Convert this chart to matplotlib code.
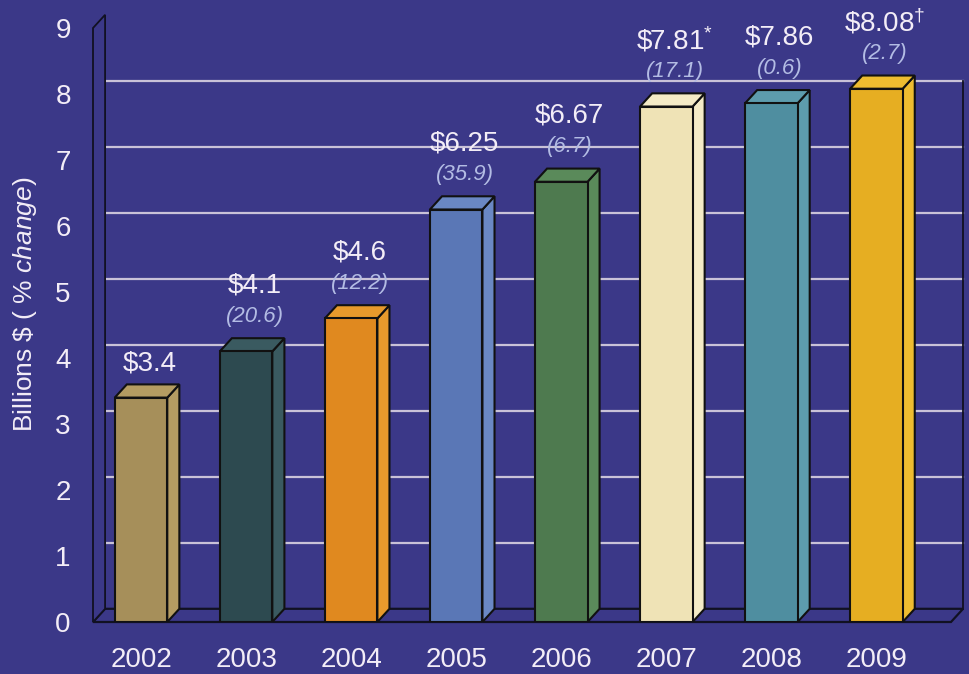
import matplotlib.pyplot as plt
from matplotlib.patches import Polygon

plt.rcParams['font.family'] = ['Liberation Sans', 'DejaVu Sans']
plt.rcParams['mathtext.fontset'] = 'custom'
plt.rcParams['mathtext.rm'] = 'Liberation Sans'
plt.rcParams['mathtext.it'] = 'Liberation Sans:italic'

# data
years = ['2002', '2003', '2004', '2005', '2006', '2007', '2008', '2009']
values = [3.4, 4.1, 4.6, 6.25, 6.67, 7.81, 7.86, 8.08]
changes = [None, 20.6, 12.2, 35.9, 6.7, 17.1, 0.6, 2.7]
notes = ['', '', '', '', '', '*', '', '\u2020']
bar_colors = ['#a68f5a', '#2d4a50', '#e0891f', '#5a77b6', '#4e7a4f',
              '#efe3b6', '#4f8ea0', '#e6ae22']
side_colors = ['#b49c62', '#3a5a60', '#e89a2c', '#6a88c4', '#5a8a5a',
               '#f4ebc6', '#5d9cad', '#eebc30']

BG = '#3b3888'
GRID = '#c9c2d8'
TXT = '#f3edf7'
PCT = '#b3bce4'

# 3d look
dx, dy = 0.115, 0.2
bw = 0.5
xl, xr = -0.457, 7.71

fig = plt.figure(figsize=(9.7, 6.74), dpi=100)
fig.patch.set_facecolor(BG)
ax = fig.add_axes([93 / 970, 52 / 674, (951 - 93) / 970, 594 / 674])
ax.set_facecolor(BG)
ax.set_xlim(xl, xr)
ax.set_ylim(0, 9)
for s in ax.spines.values():
    s.set_visible(False)

# floor and walls
ax.add_patch(Polygon([(xl, 0), (xr, 0), (xr + dx, dy), (xl + dx, dy)],
                     closed=True, facecolor=BG, edgecolor='#111122', lw=1.6,
                     zorder=1, clip_on=False))
ax.add_patch(Polygon([(xl, 0), (xl, 9), (xl + dx, 9 + dy), (xl + dx, dy)],
                     closed=True, facecolor=BG, edgecolor='#111122', lw=1.3,
                     zorder=1, clip_on=False))
for k in range(1, 9):
    ax.plot([xl + dx, xr + dx], [k + dy, k + dy], color=GRID, lw=1.6,
            zorder=0.5, clip_on=False)
ax.plot([xr + dx, xr + dx], [dy, 8 + dy], color='#111122', lw=1.3,
        zorder=1, clip_on=False)

# bars
for i, v in enumerate(values):
    x0, x1 = i - bw / 2, i + bw / 2
    ax.add_patch(Polygon([(x1, 0), (x1 + dx, dy), (x1 + dx, v + dy), (x1, v)],
                         closed=True, facecolor=side_colors[i],
                         edgecolor='#111111', lw=1.5, zorder=3))
    ax.add_patch(Polygon([(x0, v), (x0 + dx, v + dy), (x1 + dx, v + dy), (x1, v)],
                         closed=True, facecolor=side_colors[i],
                         edgecolor='#111111', lw=1.5, zorder=3))
    ax.bar(i, v, width=bw, color=bar_colors[i], edgecolor='#111111',
           lw=1.5, zorder=4)

    cx = i + dx * 0.7
    label = '\\$' + f'{v:g}'
    if notes[i]:
        label += '$^{' + notes[i] + '}$'
    if changes[i] is None:
        ax.text(cx, v + 0.52, label, ha='center', va='center',
                fontsize=20, color=TXT, zorder=5)
    else:
        ax.text(cx, v + 0.53, f'({changes[i]:g})', ha='center', va='center',
                fontsize=16, color=PCT, style='italic', zorder=5)
        ax.text(cx, v + 1.0, label, ha='center', va='center',
                fontsize=20, color=TXT, zorder=5)

ax.set_xticks(range(len(years)))
ax.set_xticklabels(years, fontsize=20, color=TXT)
ax.set_yticks(range(10))
ax.set_yticklabels([str(k) for k in range(10)], fontsize=20, color=TXT)
ax.tick_params(axis='x', length=0, pad=18)
ax.tick_params(axis='y', length=0, pad=16)

fig.text(25 / 970, 1 - 304 / 674, r'Billions \$ ( $\mathit{\%\ change}$)',
         rotation=90, ha='center', va='center', fontsize=19, color=TXT)

fig.savefig('out.png', dpi=100, facecolor=BG)
